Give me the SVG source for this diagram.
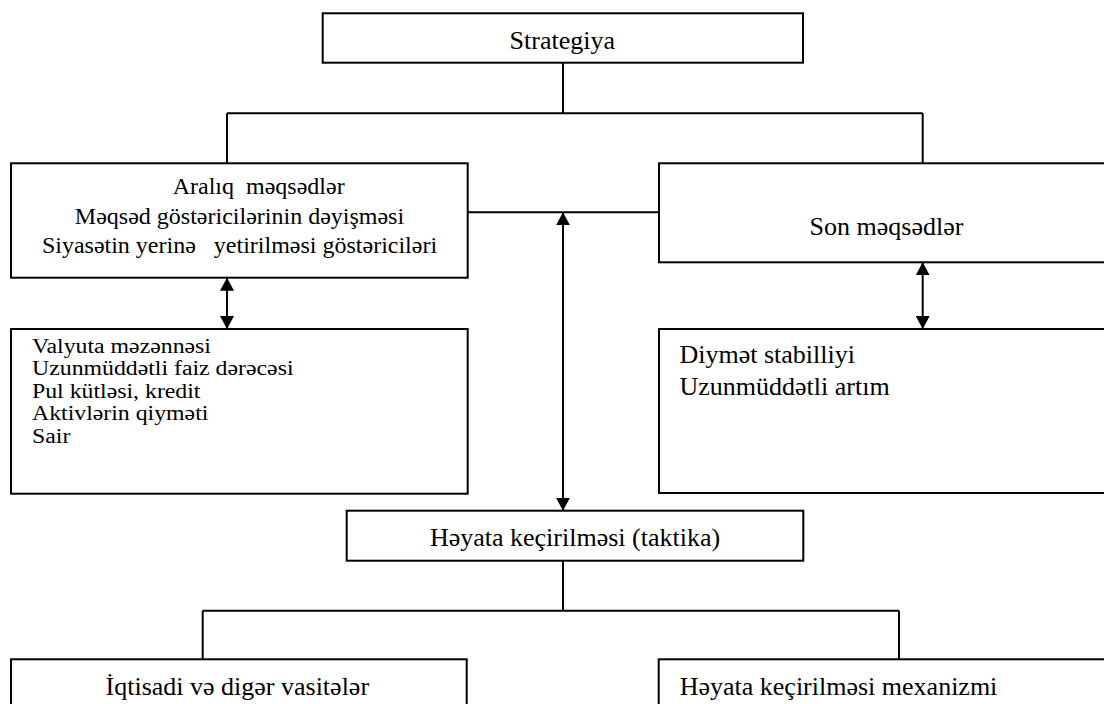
<svg xmlns="http://www.w3.org/2000/svg" width="1104" height="704" viewBox="0 0 1104 704">
<style>
.box{fill:#fff;stroke:#000;stroke-width:2}
.ln{fill:none;stroke:#000;stroke-width:2}
text{font-family:"Liberation Serif","Times New Roman",serif;fill:#000;white-space:pre}
.big{font-size:26px}
.mid{font-size:24px}
.sm{font-size:20px}
.c{text-anchor:middle}
</style>
<defs>
<marker id="ah" viewBox="0 0 13 14" refX="13" refY="7" markerWidth="13" markerHeight="14" markerUnits="userSpaceOnUse" orient="auto-start-reverse">
<path d="M0,0 L13,7 L0,14 Z" fill="#000"/>
</marker>
</defs>
<rect width="1104" height="704" fill="#fff"/>
<g id="connectors">
<path class="ln" d="M563,62.7 V113.3 M227,113.3 H922.7 M227,113.3 V163.3 M922.7,113.3 V163.3"/>
<path class="ln" d="M467.7,212.3 H659"/>
<path class="ln" d="M563,212.3 V510.7" marker-start="url(#ah)" marker-end="url(#ah)"/>
<path class="ln" d="M227,277.7 V329" marker-start="url(#ah)" marker-end="url(#ah)"/>
<path class="ln" d="M922.7,262.3 V329" marker-start="url(#ah)" marker-end="url(#ah)"/>
<path class="ln" d="M563,560.7 V610.7 M202.7,610.7 H899 M202.7,610.7 V659.3 M899,610.7 V659.3"/>
</g>
<g id="strategiya">
<rect class="box" x="322.7" y="13.3" width="480.3" height="49.4"/>
<text class="big c" x="562.3" y="49.3">Strategiya</text>
</g>
<g id="araliq">
<rect class="box" x="11" y="163.3" width="456.7" height="114.4"/>
<text class="mid c" x="258.7" y="194.3">Aralıq  məqsədlər</text>
<text class="mid c" x="239.5" y="224">Məqsəd göstəricilərinin dəyişməsi</text>
<text class="mid c" x="239.5" y="253.3">Siyasətin yerinə   yetirilməsi göstəriciləri</text>
</g>
<g id="son">
<rect class="box" x="659" y="163.3" width="460" height="99"/>
<text class="big c" x="886.5" y="235">Son məqsədlər</text>
</g>
<g id="gostericiler">
<rect class="box" x="11" y="329" width="456.7" height="164.7"/>
<g transform="translate(32,0) scale(1.19,1)">
<text class="sm" x="0" y="353">Valyuta məzənnəsi</text>
<text class="sm" x="0" y="375.5">Uzunmüddətli faiz dərəcəsi</text>
<text class="sm" x="0" y="398">Pul kütləsi, kredit</text>
<text class="sm" x="0" y="420.5">Aktivlərin qiyməti</text>
<text class="sm" x="0" y="443">Sair</text>
</g>
</g>
<g id="son-gostericiler">
<rect class="box" x="659" y="329" width="460" height="164"/>
<text class="big" x="679.5" y="363.3">Diymət stabilliyi</text>
<text class="big" x="679.5" y="395">Uzunmüddətli artım</text>
</g>
<g id="heyata">
<rect class="box" x="346.7" y="510.7" width="456.6" height="50"/>
<text class="big c" x="575" y="546">Həyata keçirilməsi (taktika)</text>
</g>
<g id="vasiteler">
<rect class="box" x="11" y="659.3" width="455.7" height="60"/>
<text class="big c" x="237.3" y="695">İqtisadi və digər vasitələr</text>
</g>
<g id="mexanizm">
<rect class="box" x="658.7" y="659.3" width="460" height="60"/>
<text class="big" x="679.7" y="695">Həyata keçirilməsi mexanizmi</text>
</g>
</svg>
